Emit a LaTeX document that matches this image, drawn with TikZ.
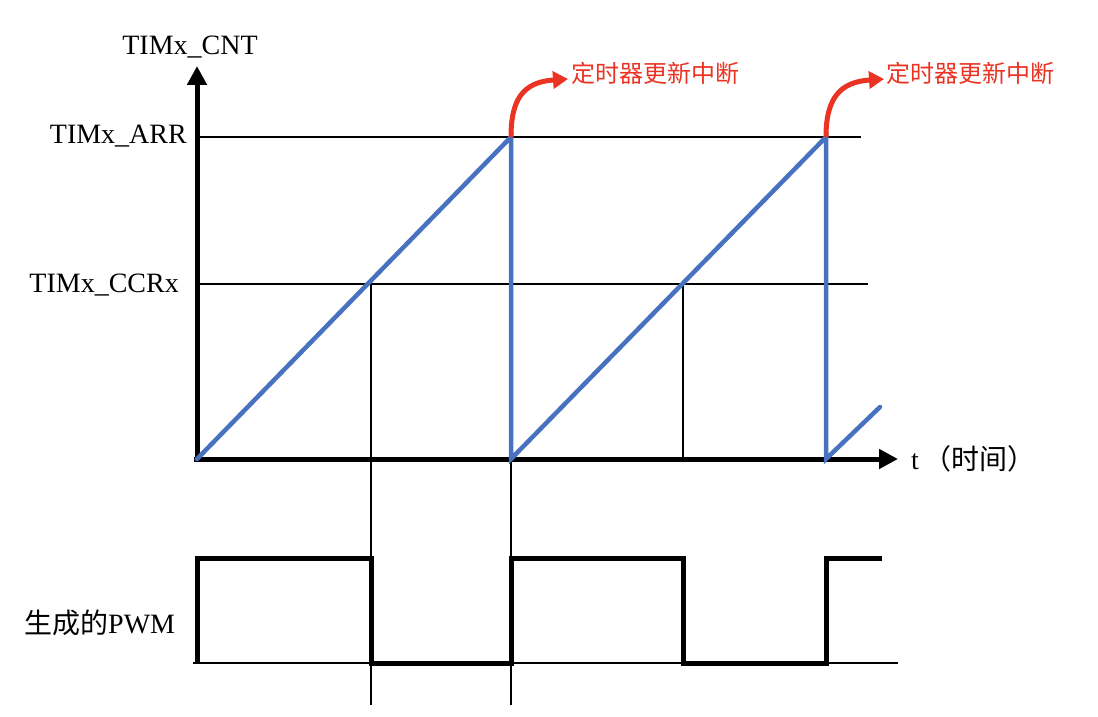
\documentclass[tikz,border=0pt]{standalone}
\usepackage{fontspec}
\setmainfont{Liberation Serif}
\newfontfamily\cjk{Noto Sans CJK SC}
\usetikzlibrary{arrows.meta}
\usetikzlibrary{positioning}
\definecolor{rampblue}{RGB}{72,114,192}
\definecolor{irqred}{RGB}{234,51,35}
\newcommand{\irqlabel}[2]{\node(#1)[irqtext,anchor=west]at(#2){\cjk 定时器更新中断}}

\begin{document}
\begin{tikzpicture}[
        x=1pt,y=-1pt,
        every node/.style={font=\fontsize{28}{32}\selectfont,inner sep=0pt},
        axis/.style={line width=5pt,-{Triangle[length=19pt,width=19pt]}},
        guide/.style={line width=1.4pt,black},
        ramp/.style={line width=4.5pt,rampblue,line cap=round},
        pwm/.style={line width=5pt,black,line join=miter},
        irq/.style={line width=5pt,irqred,-{Triangle[length=15pt,width=17pt]}},
        irqtext/.style={text=irqred,font=\fontsize{24}{27}\selectfont}
      ]
      \useasboundingbox (0,0) rectangle (1098,717);
      % key points
      \coordinate (o) at (197,459);
      \coordinate (ytip) at (197,66);
      \coordinate (xtip) at (898,459);
      \coordinate (top1) at (511,137);
      \coordinate (top2) at (826,137);
      \coordinate (bot1) at (511,459);
      \coordinate (bot2) at (826,459);
      \coordinate (rampend) at (880,407);
      \coordinate (cmp1) at (371,284);
      \coordinate (cmp2) at (683,284);
      \coordinate (irqtip1) at (568,79);
      \coordinate (irqtip2) at (884,79);
      % labels
      \node (cnt) at (190,47) {TIMx\_CNT};
      \node (arr) [anchor=east] at (187,136) {TIMx\_ARR};
      \node (ccr) [anchor=east] at (179,285) {TIMx\_CCRx};
      \node (time) [anchor=west] at (911,459) {t\,{\cjk （时间）}};
      \node (pwmlabel) [anchor=west] at (24,623) {{\cjk 生成的}PWM};
      \irqlabel{irq1}{571,73};
      \irqlabel{irq2}{886,73};
      % guide lines
      \draw[guide] (o |- top1) -- (861,137);
      \draw[guide] (o |- cmp1) -- (868,284);
      \draw[guide] (cmp1) -- (371,705);
      \draw[guide] (top1) -- (511,705);
      \draw[guide] (cmp2) -- (cmp2 |- o);
      \draw[guide] (193,663) -- (898,663);
      % axes
      \draw[axis] (197,462) -- (ytip);
      \draw[axis] (194,459) -- (xtip);
      % counter
      \draw[ramp] (o) -- (top1) -- (bot1) -- (top2) -- (bot2) -- (rampend);
      % pwm output
      \draw[pwm] (197,663) -- (197,558) -- (371,558) -- (371,663) -- (511,663)
        -- (511,558) -- (683,558) -- (683,663) -- (826,663) -- (826,558) -- (882,558);
      % update interrupts
      \draw[irq] (top1) .. controls (511,98) and (524,82) .. (irqtip1);
      \draw[irq] (top2) .. controls (826,98) and (840,82) .. (irqtip2);
    \end{tikzpicture}
\end{document}
